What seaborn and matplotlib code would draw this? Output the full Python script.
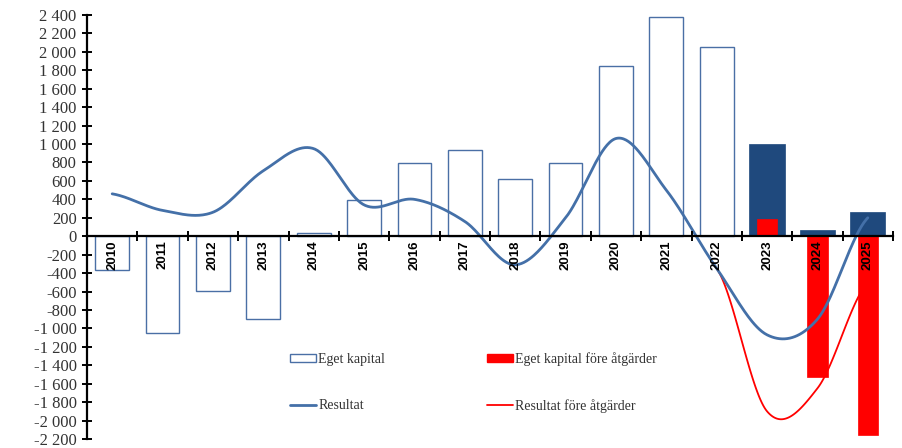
import numpy as np
import pandas as pd
import matplotlib
matplotlib.use("Agg")
import matplotlib.pyplot as plt
import seaborn as sns
from matplotlib.patches import Patch
from matplotlib.lines import Line2D

# ---- data ----
years = [str(y) for y in range(2010, 2026)]
eget_kapital = [-370, -1050, -590, -900, 40, 390, 790, 930, 620, 790, 1850, 2380, 2050, 1000, 70, 260]
n_historic = 13  # 2010-2022 outlined, 2023-2025 filled
fore_years = ["2023", "2024", "2025"]
eget_fore = [190, -1530, -2160]
resultat = [460, 280, 260, 710, 950, 340, 400, 160, -310, 200, 1060, 500, -350, -1070, -900, 200]
res_fore_years = ["2022", "2023", "2024", "2025"]
resultat_fore = [-350, -1900, -1650, -500]
yticks = list(range(-2200, 2401, 200))

NAVY = "#1F497D"
EDGE = "#4A6FA5"
LINE_BLUE = "#4470A8"
RED = "#FF0000"


def smooth(xs, ys, n=40):
    """Catmull-Rom style smoothing (as in spreadsheet 'smoothed line')."""
    xs = np.asarray(xs, float)
    ys = np.asarray(ys, float)
    m = np.zeros_like(ys)
    if len(ys) > 1:
        m[1:-1] = (ys[2:] - ys[:-2]) / 2
        m[0] = (ys[1] - ys[0]) / 2
        m[-1] = (ys[-1] - ys[-2]) / 2
    ox, oy = [], []
    for i in range(len(ys) - 1):
        t = np.linspace(0, 1, n, endpoint=(i == len(ys) - 2))
        h00 = 2 * t**3 - 3 * t**2 + 1
        h10 = t**3 - 2 * t**2 + t
        h01 = -2 * t**3 + 3 * t**2
        h11 = t**3 - t**2
        oy.append(h00 * ys[i] + h10 * m[i] + h01 * ys[i + 1] + h11 * m[i + 1])
        ox.append(xs[i] + t * (xs[i + 1] - xs[i]))
    return np.concatenate(ox), np.concatenate(oy)


sns.set_style("white")
plt.rcParams["font.family"] = ["Liberation Serif", "DejaVu Sans"]

fig = plt.figure(figsize=(9.02, 4.48), dpi=100)
ax = fig.add_axes([87 / 902, 1 - 439 / 448, (893 - 87) / 902, (439 - 15) / 448])

df_hist = pd.DataFrame({"year": years[:n_historic], "v": eget_kapital[:n_historic]})
df_prog = pd.DataFrame({"year": years[n_historic:], "v": eget_kapital[n_historic:]})
df_fore = pd.DataFrame({"year": fore_years, "v": eget_fore})

sns.barplot(data=df_hist, x="year", y="v", order=years, ax=ax, width=0.67,
            color="white", edgecolor=EDGE, linewidth=1.0, saturation=1, zorder=2)
sns.barplot(data=df_prog, x="year", y="v", order=years, ax=ax, width=0.7,
            color=NAVY, edgecolor=NAVY, linewidth=0.5, saturation=1, zorder=2)

# red line (behind red bars)
pos = {y: i for i, y in enumerate(years)}
rx, ry = smooth([pos[y] for y in res_fore_years], resultat_fore)
sns.lineplot(x=rx, y=ry, ax=ax, color=RED, lw=1.3, sort=False, estimator=None, zorder=3)

sns.barplot(data=df_fore, x="year", y="v", order=years, ax=ax, width=0.4,
            color=RED, edgecolor=RED, linewidth=0.5, saturation=1, zorder=4)

bx, by = smooth(list(range(len(years))), resultat)
sns.lineplot(x=bx, y=by, ax=ax, color=LINE_BLUE, lw=2.0, sort=False, estimator=None, zorder=5)

ax.set_xlim(-0.5, len(years) - 0.5)
ax.set_ylim(-2200, 2400)
ax.set_xlabel("")
ax.set_ylabel("")

for s in ["top", "right"]:
    ax.spines[s].set_visible(False)
ax.spines["bottom"].set_position(("data", 0))
ax.spines["bottom"].set_linewidth(1.6)
ax.spines["left"].set_linewidth(1.6)
ax.spines["bottom"].set_color("black")
ax.spines["left"].set_color("black")
ax.spines["bottom"].set_zorder(6)

ax.set_yticks(yticks)
ax.set_yticklabels([f"{v:,}".replace(",", " ") for v in yticks],
                   fontsize=12, family=["Liberation Serif"], color="#333333")
ax.tick_params(axis="y", left=True, direction="inout", length=7, width=1.4, color="black", pad=4)

ax.set_xticks(range(len(years)))
ax.set_xticklabels(years, rotation=90, fontsize=9.5, fontweight="bold",
                   family=["Liberation Sans"], color="black")
ax.tick_params(axis="x", which="major", bottom=True, length=0, pad=3)
ax.set_xticks(np.arange(-0.5, len(years), 1), minor=True)
ax.tick_params(axis="x", which="minor", bottom=True, direction="inout", length=7, width=1.4, color="black")
for lbl in ax.get_xticklabels():
    lbl.set_va("top")
    lbl.set_ha("center")
ax.xaxis.set_zorder(7)
ax.yaxis.set_zorder(7)

handles = [
    Patch(facecolor="white", edgecolor=EDGE, linewidth=1.0, label="Eget kapital"),
    Line2D([], [], color=LINE_BLUE, lw=2.0, label="Resultat"),
    Patch(facecolor=RED, edgecolor=RED, label="Eget kapital före åtgärder"),
    Line2D([], [], color=RED, lw=1.3, label="Resultat före åtgärder"),
]
leg = fig.legend(handles=handles, ncol=2, loc="upper left",
                 bbox_to_anchor=(290 / 902, 1 - 352 / 448), frameon=False,
                 prop={"family": "Liberation Serif", "size": 10},
                 handlelength=1.9, handleheight=0.5, handletextpad=0.15,
                 labelspacing=2.4, columnspacing=7.3, borderpad=0, borderaxespad=0)
for t in leg.get_texts():
    t.set_color("#333333")

fig.savefig("out.png", dpi=100)
